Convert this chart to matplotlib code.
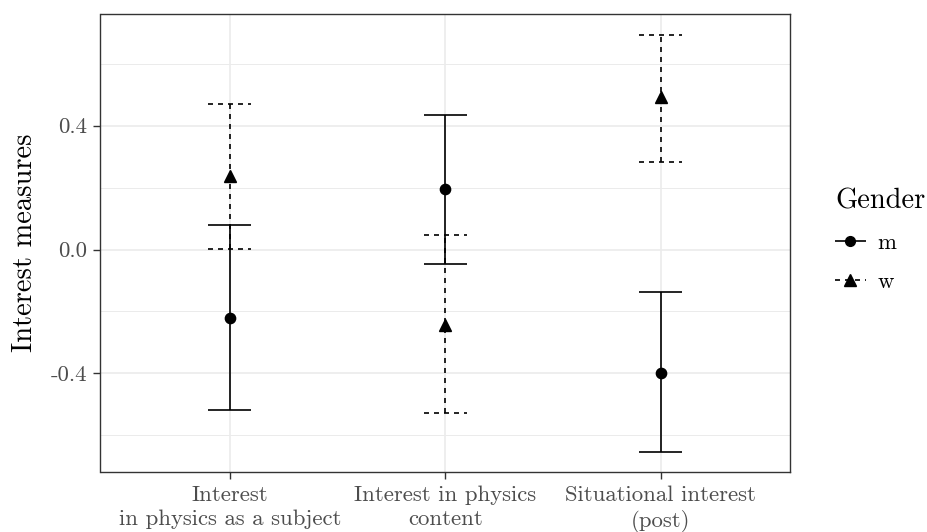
import matplotlib
matplotlib.use("Agg")
import matplotlib.pyplot as plt
from matplotlib.lines import Line2D
import numpy as np

categories = ["Interest\nin physics as a subject", "Interest in physics\ncontent", "Situational interest\n(post)"]
genders = ["m", "w"]
mean_m = [-0.220, 0.194, -0.397]
low_m = [-0.518, -0.046, -0.655]
high_m = [0.078, 0.433, -0.138]
mean_w = [0.236, -0.243, 0.492]
low_w = [0.001, -0.527, 0.281]
high_w = [0.468, 0.047, 0.692]
yticks = [-0.4, 0.0, 0.4]
yticklabels = ["-0.4", "0.0", "0.4"]
yminor = [-0.6, -0.2, 0.2, 0.6]

plt.rcParams["font.family"] = ["cmr10", "DejaVu Serif"]
plt.rcParams["axes.formatter.use_mathtext"] = True

fig = plt.figure(figsize=(9.28, 5.32), dpi=100)
ax = fig.add_axes([100.5/928, 1-472/532, (790-100.5)/928, (472-14.3)/532])

x = np.arange(1, len(categories)+1)
lw = 1.2
series = [
    (mean_m, low_m, high_m, "o", (0, ()), 7.4),
    (mean_w, low_w, high_w, "^", (0, (3, 3)), 8.7),
]
handles = []
for (mean, lo, hi, mk, ls, ms), g in zip(series, genders):
    mean = np.array(mean); lo = np.array(lo); hi = np.array(hi)
    ax.vlines(x, lo, hi, colors="black", linestyles=[ls], lw=lw, zorder=3)
    ax.hlines(lo, x-0.1, x+0.1, colors="black", linestyles=[ls], lw=lw, zorder=3)
    ax.hlines(hi, x-0.1, x+0.1, colors="black", linestyles=[ls], lw=lw, zorder=3)
    ax.plot(x, mean, linestyle="none", marker=mk, color="black", markersize=ms, zorder=4)
    handles.append(Line2D([], [], color="black", lw=lw, linestyle=ls, marker=mk,
                          markersize=ms*0.95, label=g))

ax.set_xlim(0.4, 3.6)
ax.set_ylim(-0.718, 0.759)
ax.set_xticks(x)
ax.set_xticklabels(categories, color="#4D4D4D", fontsize=16.4, linespacing=1.3)
ax.set_yticks(yticks)
ax.set_yticklabels(yticklabels, color="#4D4D4D", fontsize=16.4)
ax.set_yticks(yminor, minor=True)
ax.tick_params(axis="both", which="major", length=5, width=1.0, color="#333333", pad=4.5)
ax.tick_params(axis="y", which="minor", length=0)
ax.grid(True, which="major", color="#EBEBEB", lw=1.2, zorder=0)
ax.grid(True, which="minor", axis="y", color="#EBEBEB", lw=0.7, zorder=0)
ax.set_axisbelow(True)
for s in ax.spines.values():
    s.set_color("#333333")
    s.set_linewidth(1.0)
ax.set_ylabel("Interest measures", fontsize=20.5, labelpad=9)

leg = fig.legend(handles=handles, title="Gender", loc="upper left",
                 bbox_to_anchor=(826/928, 1-179/532), frameon=False,
                 fontsize=16.4, title_fontsize=20.5, handlelength=1.35,
                 handletextpad=0.5, labelspacing=0.82, borderaxespad=0)
leg._legend_box.align = "left"

fig.savefig("out.png", dpi=100)
